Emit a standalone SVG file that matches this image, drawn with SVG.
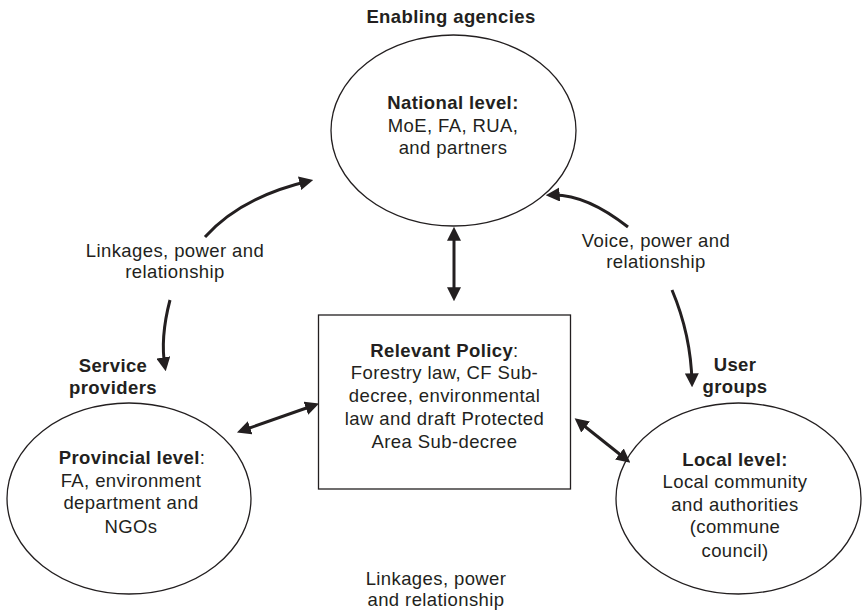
<svg xmlns="http://www.w3.org/2000/svg" width="862" height="611" viewBox="0 0 862 611">
  <style>
    text { font-family: "Liberation Sans", Arial, Helvetica, sans-serif; font-size: 18.5px; letter-spacing: 0.4px; fill: #231f20; text-anchor: middle; }
    .b { font-weight: bold; }
    .shape { fill: #ffffff; stroke: #231f20; stroke-width: 1.3; }
    .link { fill: none; stroke: #231f20; stroke-width: 3; }
  </style>
  <defs>
    <marker id="head" markerUnits="userSpaceOnUse" markerWidth="14" markerHeight="14" viewBox="0 0 13 13" refX="9" refY="6.5" orient="auto-start-reverse">
      <path d="M0,0 L13,6.5 L0,13 z" fill="#231f20"/>
    </marker>
  </defs>

  <rect width="862" height="611" fill="#ffffff"/>

  <!-- Group headings -->
  <g id="headings">
    <text class="b" x="451" y="23">Enabling agencies</text>
    <text class="b" x="113" y="372">Service</text>
    <text class="b" x="113" y="394">providers</text>
    <text class="b" x="735" y="371">User</text>
    <text class="b" x="735" y="393">groups</text>
  </g>

  <!-- National level -->
  <g id="national">
    <ellipse class="shape" cx="453.5" cy="130.5" rx="122.5" ry="95.5"/>
    <text class="b" x="453" y="109">National level:</text>
    <text x="453" y="132">MoE, FA, RUA,</text>
    <text x="453" y="154">and partners</text>
  </g>

  <!-- Provincial level -->
  <g id="provincial">
    <ellipse class="shape" cx="129" cy="498.5" rx="122" ry="95.5"/>
    <text x="132" y="464"><tspan class="b">Provincial level</tspan>:</text>
    <text x="131" y="487">FA, environment</text>
    <text x="131" y="509">department and</text>
    <text x="131" y="533">NGOs</text>
  </g>

  <!-- Local level -->
  <g id="local">
    <ellipse class="shape" cx="738.5" cy="498.5" rx="122.5" ry="95.5"/>
    <text class="b" x="735" y="466">Local level:</text>
    <text x="735" y="488">Local community</text>
    <text x="735" y="511">and authorities</text>
    <text x="735" y="533">(commune</text>
    <text x="735" y="557">council)</text>
  </g>

  <!-- Relevant policy -->
  <g id="policy">
    <rect class="shape" x="318.5" y="315" width="252" height="174"/>
    <text x="444.5" y="357"><tspan class="b">Relevant Policy</tspan>:</text>
    <text x="444.5" y="379">Forestry law, CF Sub-</text>
    <text x="444.5" y="402">decree, environmental</text>
    <text x="444.5" y="425">law and draft Protected</text>
    <text x="444.5" y="448">Area Sub-decree</text>
  </g>

  <!-- Connectors -->
  <g id="connectors">
    <path class="link" d="M454,231 L454,297" marker-start="url(#head)" marker-end="url(#head)"/>
    <path class="link" d="M241,431 L315,405" marker-start="url(#head)" marker-end="url(#head)"/>
    <path class="link" d="M578,421 L627,460" marker-start="url(#head)" marker-end="url(#head)"/>
    <path class="link" d="M205,237 Q241,197 309,181" marker-end="url(#head)"/>
    <path class="link" d="M170,300 Q160,338 165,367" marker-end="url(#head)"/>
    <path class="link" d="M628,227 Q585,193 550,195" marker-end="url(#head)"/>
    <path class="link" d="M672,290 Q691,335 692,383" marker-end="url(#head)"/>
  </g>

  <!-- Connector labels -->
  <g id="labels">
    <text x="175" y="257">Linkages, power and</text>
    <text x="175" y="278">relationship</text>
    <text x="656" y="247">Voice, power and</text>
    <text x="656" y="268">relationship</text>
    <text x="436" y="585">Linkages, power</text>
    <text x="436" y="606">and relationship</text>
  </g>
</svg>
